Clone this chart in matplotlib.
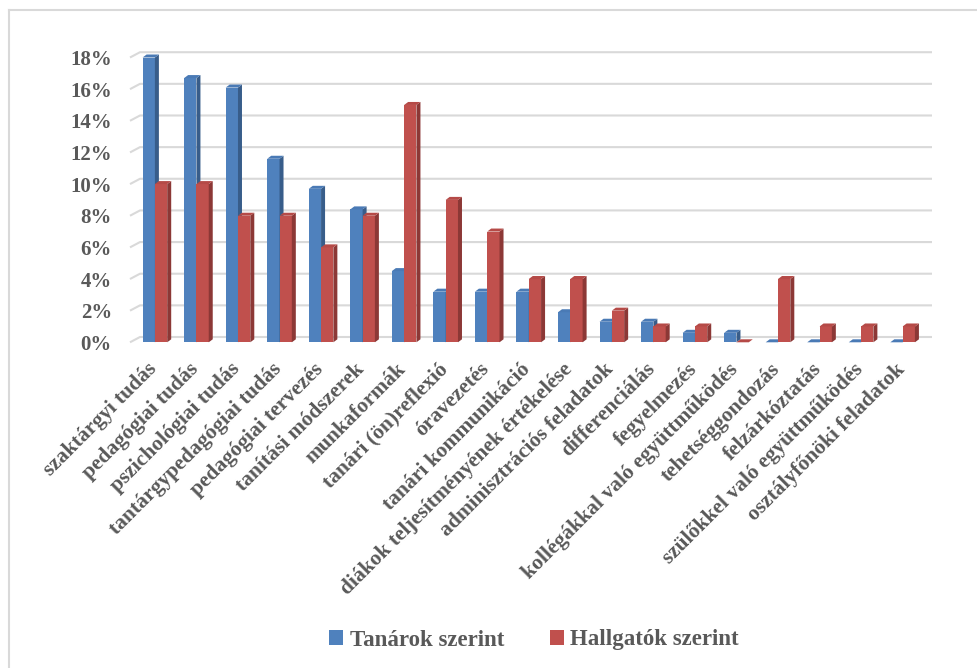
import matplotlib
matplotlib.use("Agg")
import matplotlib.pyplot as plt
from matplotlib.patches import Polygon, Patch
from matplotlib.transforms import ScaledTranslation

categories = [
    "szaktárgyi tudás", "pedagógiai tudás", "pszichológiai tudás",
    "tantárgypedagógiai tudás", "pedagógiai tervezés", "tanítási módszerek",
    "munkaformák", "tanári (ön)reflexió", "óravezetés", "tanári kommunikáció",
    "diákok teljesítményének értékelése", "adminisztrációs feladatok",
    "differenciálás", "fegyelmezés", "kollégákkal való együttműködés",
    "tehetséggondozás", "felzárkóztatás", "szülőkkel való együttműködés",
    "osztályfőnöki feladatok",
]
tanarok = [0.180, 0.167, 0.161, 0.116, 0.097, 0.084, 0.045, 0.032, 0.032, 0.032,
           0.019, 0.013, 0.013, 0.006, 0.006, 0.0, 0.0, 0.0, 0.0]
hallgatok = [0.10, 0.10, 0.08, 0.08, 0.06, 0.08, 0.15, 0.09, 0.07, 0.04,
             0.04, 0.02, 0.01, 0.01, 0.0, 0.04, 0.01, 0.01, 0.01]
yticks = [0, 0.02, 0.04, 0.06, 0.08, 0.10, 0.12, 0.14, 0.16, 0.18]
ytick_labels = ["0%", "2%", "4%", "6%", "8%", "10%", "12%", "14%", "16%", "18%"]
series_names = ["Tanárok szerint", "Hallgatók szerint"]

FONT = "Liberation Serif"
TXT = "#595959"
BLUE, BLUE_SIDE, BLUE_TOP = "#4F81BD", "#385D8A", "#4A7AB5"
RED, RED_SIDE, RED_TOP = "#C0504D", "#8C3836", "#B54A47"

W, H = 977, 668
fig = plt.figure(figsize=(W / 100, H / 100), dpi=100)

# axes in pixel coordinates (front plane)
left_px, right_px = 130, 932
y0_px, y18_px = 342.3, 57.5
ax = fig.add_axes([left_px / W, 1 - y0_px / H, (right_px - left_px) / W, (y0_px - y18_px) / H])
px_per_x = 41.54
x_first = 154.9
xmin = (left_px - x_first) / px_per_x
xmax = (right_px - x_first) / px_per_x
ax.set_xlim(xmin, xmax)
ax.set_ylim(0, 0.18)
for s in ax.spines.values():
    s.set_visible(False)
ax.set_xticks([])
ax.set_yticks(yticks)
ax.set_yticklabels(ytick_labels, fontfamily=FONT, fontweight="bold", fontsize=15, color=TXT)
ax.tick_params(axis="y", length=0, pad=13)

ypx = 0.18 / (y0_px - y18_px)  # data per pixel in y
# gridlines on back wall
gdx, gdy = 10 / px_per_x, 5.3 * ypx
for v in yticks:
    ax.plot([xmin, xmin + gdx, xmax], [v, v + gdy, v + gdy], color="#D9D9D9",
            lw=1.5, clip_on=False, zorder=1, solid_capstyle="butt")

bw = 12.3 / px_per_x
ddx, ddy = 4 / px_per_x, 3 * ypx


def bar3d(x0, h, c, cs, ct, z):
    x1 = x0 + bw
    ax.add_patch(Polygon([(x0, 0), (x1, 0), (x1, h), (x0, h)], closed=True,
                         facecolor=c, edgecolor="none", zorder=z, clip_on=False))
    ax.add_patch(Polygon([(x1, 0), (x1 + ddx, ddy), (x1 + ddx, h + ddy), (x1, h)], closed=True,
                         facecolor=cs, edgecolor="none", zorder=z, clip_on=False))
    ax.add_patch(Polygon([(x0, h), (x0 + ddx, h + ddy), (x1 + ddx, h + ddy), (x1, h)], closed=True,
                         facecolor=ct, edgecolor="none", zorder=z, clip_on=False))


for i, (t, h) in enumerate(zip(tanarok, hallgatok)):
    bar3d(i - bw, t, BLUE, BLUE_SIDE, BLUE_TOP, 3 + 2 * i)
    bar3d(i, h, RED, RED_SIDE, RED_TOP, 4 + 2 * i)

# category labels
off = ScaledTranslation(-8 / 100, -17 / 100, fig.dpi_scale_trans)
for i, name in enumerate(categories):
    ax.text(i, 0, name, rotation=45, rotation_mode="anchor", ha="right", va="top",
            fontfamily=FONT, fontweight="bold", fontsize=15.5, color=TXT,
            transform=ax.transData + off)

handles = [Patch(facecolor=BLUE, edgecolor="none"), Patch(facecolor=RED, edgecolor="none")]
fig.legend(handles, series_names, loc="center", bbox_to_anchor=(534 / W, 1 - 640 / H),
           ncol=2, frameon=False, handlelength=0.6, handleheight=0.6, handletextpad=0.3,
           columnspacing=2.0, prop={"family": FONT, "weight": "bold", "size": 16.5},
           labelcolor=TXT)

# outer frame (top and left visible)
fig.add_artist(plt.Line2D([8.5 / W, 8.5 / W], [0, 1 - 9.5 / H], color="#D9D9D9", lw=1.5,
                          transform=fig.transFigure))
fig.add_artist(plt.Line2D([8.5 / W, 1], [1 - 9.5 / H, 1 - 9.5 / H], color="#D9D9D9", lw=1.5,
                          transform=fig.transFigure))

fig.savefig("out.png", dpi=100, facecolor="white")
